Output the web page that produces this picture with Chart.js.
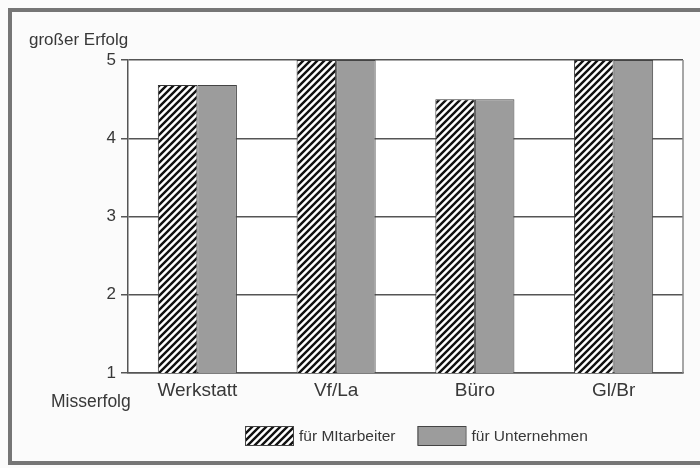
<!DOCTYPE html>
<html>
<head>
<meta charset="utf-8">
<script src="https://cdn.jsdelivr.net/npm/chart.js@4"></script>
<style>
  html, body { margin: 0; padding: 0; background: #fbfbfb; }
  #wrap { width: 700px; height: 468px; }
</style>
</head>
<body>
<div id="wrap"><canvas id="chart" width="700" height="468"></canvas></div>
<script>
// Data
const categories = ['Werkstatt', 'Vf/La', 'Büro', 'Gl/Br'];
const seriesNames = ['für MItarbeiter', 'für Unternehmen'];
const mitarbeiter = [4.68, 5, 4.5, 5];
const unternehmen = [4.68, 5, 4.5, 5];
const yTicks = [1, 2, 3, 4, 5];
const topLabel = 'großer Erfolg';
const bottomLabel = 'Misserfolg';

const FONT = '"Liberation Sans", Arial, sans-serif';
const TEXT = '#383838';

// diagonal hatch like the printed pattern
function makeHatch() {
  const s = 7;
  const c = document.createElement('canvas');
  c.width = s; c.height = s;
  const g = c.getContext('2d');
  g.fillStyle = '#fff';
  g.fillRect(0, 0, s, s);
  g.strokeStyle = '#111';
  g.lineWidth = 2.4;
  g.beginPath();
  g.moveTo(-1, s + 1); g.lineTo(s + 1, -1);
  g.moveTo(-1, 1); g.lineTo(1, -1);
  g.moveTo(s - 1, s + 1); g.lineTo(s + 1, s - 1);
  g.stroke();
  return g.createPattern(c, 'repeat');
}

const ctx = document.getElementById('chart').getContext('2d');
const hatch = makeHatch();
const grey = '#9c9c9c';

const decor = {
  id: 'decor',
  beforeDraw(chart) {
    const c = chart.ctx;
    c.save();
    c.fillStyle = '#fbfbfb';
    c.fillRect(0, 0, chart.width, chart.height);
    c.fillStyle = '#ffffff';
    const a = chart.chartArea;
    c.fillRect(a.left, a.top, a.right - a.left, a.bottom - a.top);
    // outer frame, right side runs off the scan
    c.strokeStyle = '#767676';
    c.lineWidth = 4;
    c.strokeRect(10, 10, chart.width + 10, 453);
    c.restore();
  },
  afterDraw(chart) {
    const c = chart.ctx;
    const a = chart.chartArea;
    c.save();
    // right edge of plot
    c.strokeStyle = '#8a8a8a';
    c.lineWidth = 1.5;
    c.beginPath();
    c.moveTo(a.right, a.top);
    c.lineTo(a.right, a.bottom);
    c.stroke();

    c.fillStyle = TEXT;
    c.textBaseline = 'alphabetic';
    c.textAlign = 'left';
    c.font = '17px ' + FONT;
    c.fillText(topLabel, 29, 45);
    c.font = '17.5px ' + FONT;
    c.fillText(bottomLabel, 51, 407);

    // legend
    c.font = '15.5px ' + FONT;
    let x = 245;
    const y = 426, bw = 48, bh = 19;
    chart.data.datasets.forEach(ds => {
      c.fillStyle = ds.backgroundColor;
      c.fillRect(x, y, bw, bh);
      c.strokeStyle = '#444';
      c.lineWidth = 1;
      c.strokeRect(x + 0.5, y + 0.5, bw, bh);
      c.fillStyle = TEXT;
      c.fillText(ds.label, x + bw + 6, y + 15);
      x += bw + 6 + c.measureText(ds.label).width + 22;
    });
    c.restore();
  }
};

new Chart(ctx, {
  type: 'bar',
  data: {
    labels: categories,
    datasets: [
      {
        label: seriesNames[0],
        data: mitarbeiter,
        backgroundColor: hatch,
        borderColor: '#333',
        borderWidth: 1
      },
      {
        label: seriesNames[1],
        data: unternehmen,
        backgroundColor: grey,
        borderColor: '#444',
        borderWidth: 1
      }
    ]
  },
  options: {
    responsive: false,
    animation: false,
    layout: {
      padding: { left: 98, top: 60, right: 17, bottom: 55 }
    },
    datasets: {
      bar: { categoryPercentage: 0.57, barPercentage: 1 }
    },
    plugins: {
      legend: { display: false },
      tooltip: { enabled: false }
    },
    scales: {
      x: {
        afterFit(scale) { scale.height = 40; },
        grid: { display: false, drawTicks: false },
        border: { display: true, color: '#555', width: 1.5 },
        ticks: {
          color: TEXT,
          padding: 6,
          font: { family: FONT, size: 19 }
        }
      },
      y: {
        min: yTicks[0],
        max: yTicks[yTicks.length - 1],
        afterFit(scale) { scale.width = 30; },
        afterBuildTicks(scale) { scale.ticks = yTicks.map(v => ({ value: v })); },
        grid: { color: '#555', lineWidth: 1.5, tickLength: 7 },
        border: { display: true, color: '#555', width: 1.5 },
        ticks: {
          color: TEXT,
          padding: 5,
          font: { family: FONT, size: 17 }
        }
      }
    }
  },
  plugins: [decor]
});
</script>
</body>
</html>
